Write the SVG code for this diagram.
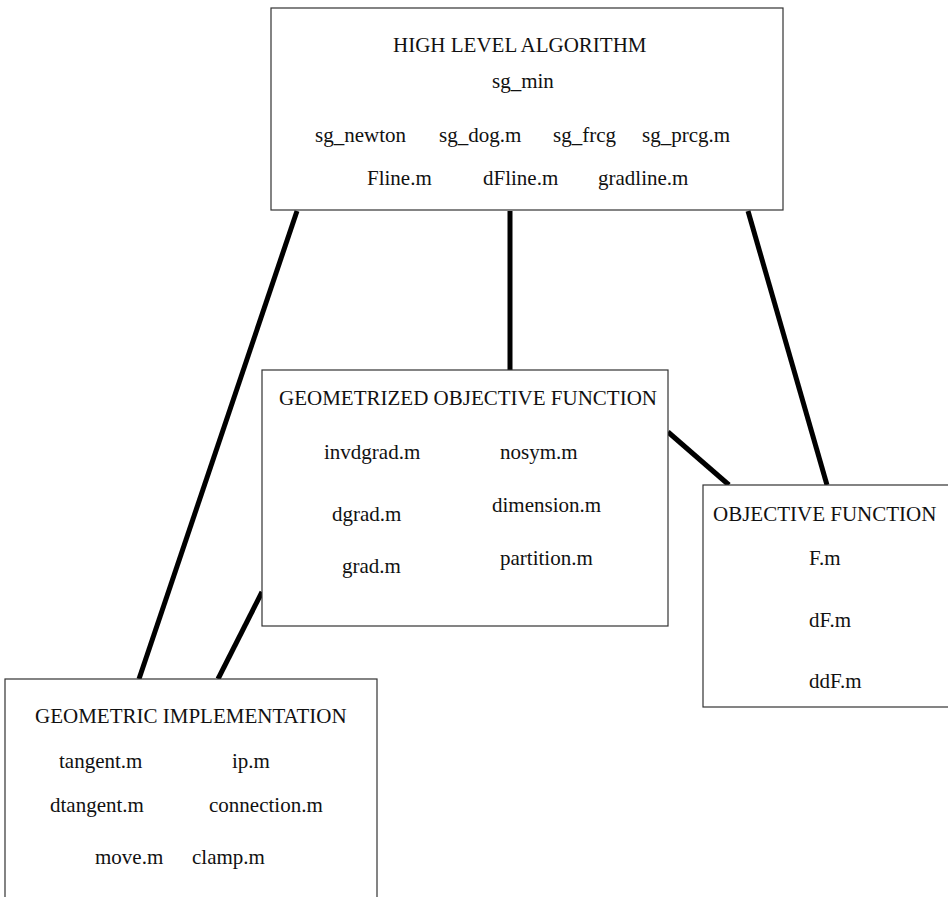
<svg xmlns="http://www.w3.org/2000/svg" width="948" height="897" viewBox="0 0 948 897">
<style>
.box{fill:#fff;stroke:#333;stroke-width:1.2}
text{font-family:"Liberation Serif","Times New Roman",serif;font-size:21px;fill:#111}
.conn line{stroke:#000;stroke-width:5;stroke-linecap:butt}
</style>
<rect width="948" height="897" fill="#fff"/>
<g class="conn" id="connectors">
<line x1="297" y1="211" x2="139" y2="679"/>
<line x1="510" y1="211" x2="510" y2="370"/>
<line x1="748" y1="211" x2="827" y2="485"/>
<line x1="668" y1="432" x2="729" y2="485"/>
<line x1="262" y1="592" x2="218" y2="679"/>
</g>
<g id="high-level">
<rect class="box" x="271" y="8" width="512" height="202"/>
<text x="393" y="52">HIGH LEVEL ALGORITHM</text>
<text x="492" y="88">sg_min</text>
<text x="315" y="142">sg_newton</text>
<text x="439" y="142">sg_dog.m</text>
<text x="553" y="142">sg_frcg</text>
<text x="642" y="142">sg_prcg.m</text>
<text x="367" y="185">Fline.m</text>
<text x="483" y="185">dFline.m</text>
<text x="598" y="185">gradline.m</text>
</g>
<g id="geometrized">
<rect class="box" x="262" y="370" width="406" height="256"/>
<text x="279" y="405">GEOMETRIZED OBJECTIVE FUNCTION</text>
<text x="324" y="459">invdgrad.m</text>
<text x="500" y="459">nosym.m</text>
<text x="332" y="521">dgrad.m</text>
<text x="492" y="512">dimension.m</text>
<text x="342" y="573">grad.m</text>
<text x="500" y="565">partition.m</text>
</g>
<g id="objective">
<rect class="box" x="703" y="485" width="260" height="222"/>
<text x="713" y="521">OBJECTIVE FUNCTION</text>
<text x="809" y="565">F.m</text>
<text x="809" y="627">dF.m</text>
<text x="809" y="688">ddF.m</text>
</g>
<g id="geometric">
<rect class="box" x="5" y="679" width="372" height="240"/>
<text x="35" y="723">GEOMETRIC IMPLEMENTATION</text>
<text x="59" y="768">tangent.m</text>
<text x="232" y="768">ip.m</text>
<text x="50" y="812">dtangent.m</text>
<text x="209" y="812">connection.m</text>
<text x="95" y="864">move.m</text>
<text x="192" y="864">clamp.m</text>
</g>
</svg>
